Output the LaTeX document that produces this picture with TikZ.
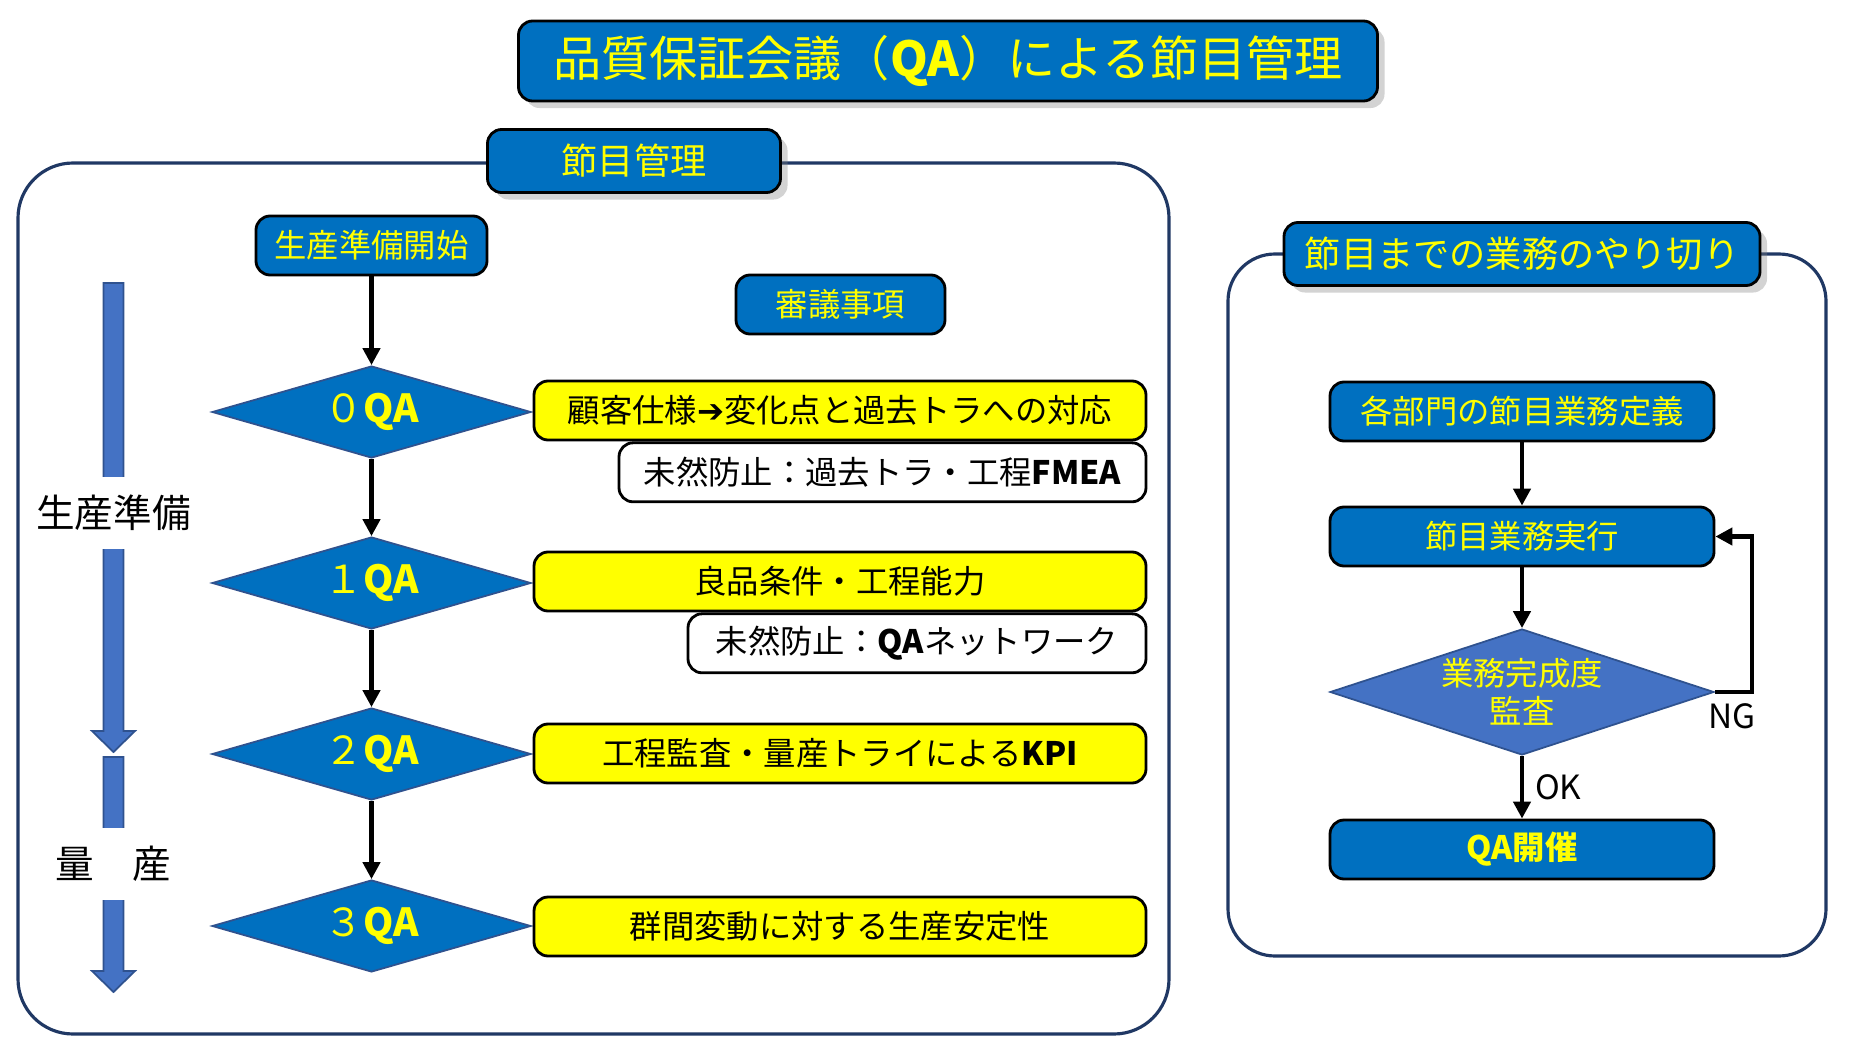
\documentclass[tikz,border=0pt]{standalone}
\usepackage{fontspec}
\setmainfont{Noto Sans CJK JP}
\newfontfamily\symfont{DejaVu Sans}
\usetikzlibrary{shapes.geometric,positioning,arrows.meta,shadows}
\definecolor{qablue}{HTML}{0070C0}
\definecolor{qalight}{HTML}{4472C4}
\definecolor{qaedge}{HTML}{2F528F}
\definecolor{qanavy}{HTML}{203864}
\definecolor{qayellow}{HTML}{FFFF00}
\tikzset{
  bluebox/.style={draw=black,line width=0.8pt,rounded corners=4pt,fill=qablue,text=qayellow,align=center,inner sep=0pt,minimum height=0.59cm,font=\fontsize{9.2}{11}\selectfont},
  headbox/.style={bluebox,minimum height=0.63cm,font=\fontsize{10.3}{12}\selectfont,drop shadow={opacity=0.35,shadow xshift=2pt,shadow yshift=-2pt}},
  notebox/.style={draw=black,line width=0.8pt,rounded corners=4pt,fill=qayellow,align=center,inner sep=0pt,minimum height=0.59cm,font=\fontsize{9.2}{11}\selectfont},
  subbox/.style={notebox,fill=white},
  qadiam/.style={diamond,aspect=3.4,draw=qaedge,line width=0.5pt,fill=qablue,text=qayellow,inner sep=0pt,minimum width=3.19cm,minimum height=0.92cm,font=\fontsize{11}{13}\selectfont},
  panel/.style={draw=qanavy,line width=0.9pt,rounded corners=0.55cm},
  flowarr/.style={-{Triangle[length=0.17cm,width=0.17cm]},line width=1.4pt},
  stagebar/.style={fill=qalight,draw=qaedge,line width=0.5pt},
  stagelbl/.style={fill=white,inner xsep=2pt,inner ysep=0.18cm,font=\fontsize{11}{13}\selectfont},
  judgelbl/.style={font=\fontsize{9.5}{11}\selectfont,inner sep=1pt}
}

\begin{document}
\begin{tikzpicture}
  \useasboundingbox (0,0) rectangle (18.5,-10.48);
  % frames
  \draw[panel] (0.18,-1.63) rectangle (11.69,-10.34);
  \draw[panel,rounded corners=0.47cm] (12.28,-2.54) rectangle (18.26,-9.56);
  \node[headbox,minimum width=8.59cm,minimum height=0.8cm,font=\fontsize{13.7}{16}\selectfont] (title) at (9.48,-0.61) {品質保証会議（{\bfseries QA}）による節目管理};
  \node[headbox,minimum width=2.93cm] (lhead) at (6.34,-1.61) {節目管理};
  \node[headbox,minimum width=4.76cm] (rhead) at (15.22,-2.54) {節目までの業務のやり切り};

  % stage arrows on the left
  \foreach \top/\tip/\ly/\name/\txt in {-2.83/-7.52/-5.13/prep/生産準備,-7.57/-9.92/-8.64/mass/量　産}{
    \filldraw[stagebar] (1.035,\top) -- (1.235,\top) -- (1.235,\tip+0.21) -- (1.35,\tip+0.21)
      -- (1.135,\tip) -- (0.92,\tip+0.21) -- (1.035,\tip+0.21) -- cycle;
    \node[stagelbl] (\name) at (1.135,\ly) {\txt};
  }

  % left flow
  \node[bluebox,minimum width=2.31cm] (start) at (3.715,-2.455) {生産準備開始};
  \node[bluebox,minimum width=2.09cm] (topic) at (8.405,-3.045) {審議事項};
  \foreach \i/\d/\y in {0/０/-4.12,1/１/-5.83,2/２/-7.54,3/３/-9.26}
    \node[qadiam] (q\i) at (3.715,\y) {\d{\bfseries QA}};
  \draw[flowarr] (start) -- (q0);
  \foreach \a/\b in {0/1,1/2,2/3}
    \draw[flowarr] (q\a) -- (q\b);

  \node[notebox,minimum width=6.12cm] (n0) at (8.40,-4.105) {顧客仕様{\symfont ➔}変化点と過去トラへの対応};
  \node[subbox,minimum width=5.27cm,anchor=north east] (s0) at (n0.south east) {未然防止：過去トラ・工程{\bfseries FMEA}};
  \node[notebox,minimum width=6.12cm] (n1) at (8.40,-5.815) {良品条件・工程能力};
  \node[subbox,minimum width=4.58cm,anchor=north east] (s1) at (n1.south east) {未然防止：{\bfseries QA}ネットワーク};
  \node[notebox,minimum width=6.12cm] (n2) at (8.40,-7.535) {工程監査・量産トライによる{\bfseries KPI}};
  \node[notebox,minimum width=6.12cm] (n3) at (8.40,-9.265) {群間変動に対する生産安定性};

  % right flow
  \node[bluebox,minimum width=3.84cm] (def) at (15.22,-4.115) {各部門の節目業務定義};
  \node[bluebox,minimum width=3.84cm] (run) at (15.22,-5.365) {節目業務実行};
  \node[qadiam,aspect=3.05,fill=qalight,minimum width=3.84cm,minimum height=1.26cm,align=center,font=\fontsize{9.2}{11}\selectfont] (audit) at (15.22,-6.92) {業務完成度\\監査};
  \node[bluebox,minimum width=3.84cm,font=\fontsize{9.2}{11}\selectfont\bfseries] (hold) at (15.22,-8.495) {QA開催};
  \coordinate (ngturn) at (17.52,-5.365);
  \draw[flowarr] (def) -- (run);
  \draw[flowarr] (run) -- (audit);
  \draw[flowarr] (audit) -- node[judgelbl,right=2pt] (ok) {OK} (hold);
  \draw[flowarr] (audit.east) -| (ngturn) -- (run.east);
  \node[judgelbl] (ng) at (17.32,-7.16) {NG};
\end{tikzpicture}
\end{document}
